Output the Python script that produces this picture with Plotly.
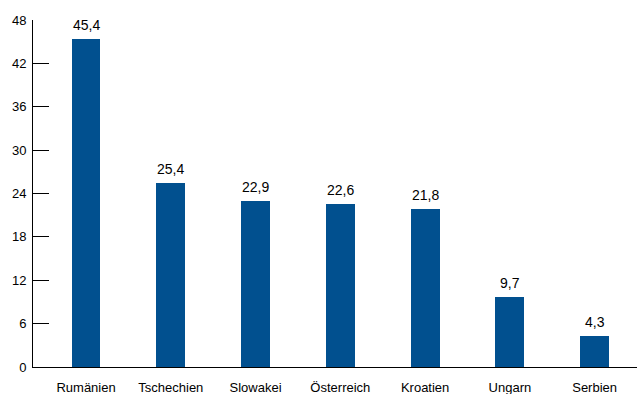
import plotly.graph_objects as go

categories = ["Rumänien", "Tschechien", "Slowakei", "Österreich", "Kroatien", "Ungarn", "Serbien"]
values = [45.4, 25.4, 22.9, 22.6, 21.8, 9.7, 4.3]
y_ticks = [0, 6, 12, 18, 24, 30, 36, 42, 48]

fig = go.Figure(go.Bar(
    x=categories, y=values, width=0.34,
    marker=dict(color="#01508F", line=dict(width=0)),
    hoverinfo="x+y",
))

for c, v in zip(categories, values):
    fig.add_annotation(
        x=c, y=v, text=f"{v:.1f}".replace(".", ","), showarrow=False,
        yanchor="bottom", yshift=4,
        font=dict(family="Liberation Sans, Arial", size=14, color="#000000"),
    )

fig.update_layout(
    width=638, height=394,
    margin=dict(l=33, r=1, t=20, b=27),
    paper_bgcolor="white", plot_bgcolor="white",
    separators=",.",
    showlegend=False,
    font=dict(family="Liberation Sans, Arial", size=13, color="#000000"),
    bargap=0,
)
fig.update_xaxes(
    range=[-0.626, 6.5], showline=True, linecolor="#000000", linewidth=1,
    ticks="outside", ticklen=8, tickcolor="rgba(0,0,0,0)", showgrid=False,
    tickfont=dict(size=13), automargin=False,
)
fig.update_yaxes(
    range=[0, 48], tickvals=y_ticks, showline=True, linecolor="#000000", linewidth=1,
    ticks="inside", ticklen=16, tickcolor="#000000", showgrid=False, zeroline=False,
    tickfont=dict(size=13), automargin=False, ticklabelstandoff=3,
)
fig.write_html(
    "out.html",
    config={"displayModeBar": False},
    post_script="document.body.style.margin='0';document.body.style.overflow='hidden';",
)
